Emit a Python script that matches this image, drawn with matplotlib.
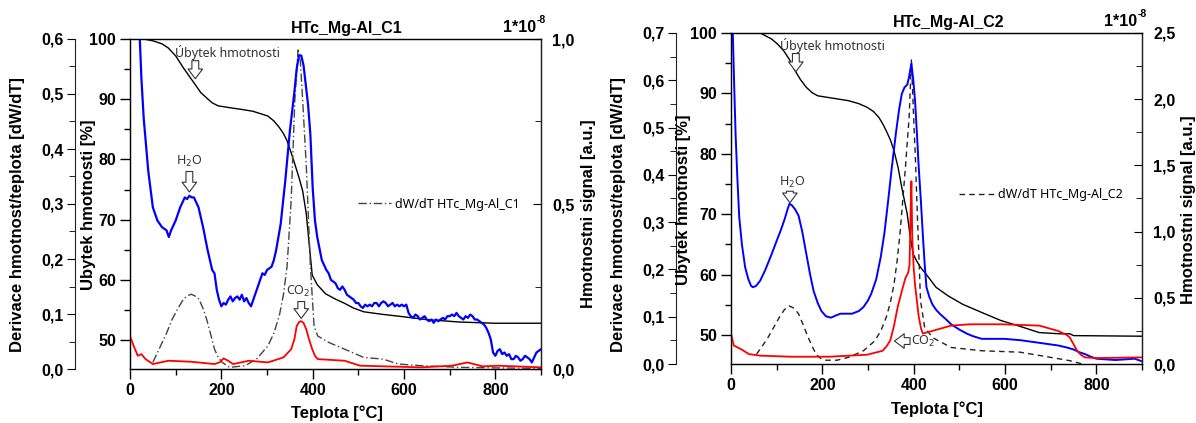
import numpy as np
import matplotlib
matplotlib.use('Agg')
import matplotlib.pyplot as plt
from matplotlib.ticker import FuncFormatter, MultipleLocator

plt.rcParams['font.family'] = ['Liberation Sans', 'DejaVu Sans']

# ---------------- data: HTc_Mg-Al_C1 ----------------
tg1_x = [0, 30, 50, 70, 84, 100, 117, 130, 143, 155, 168, 180, 193, 218, 245, 269, 290, 302, 315,
         327, 336, 344, 352, 361, 370, 378, 386, 393, 399, 410, 428, 450, 470, 490, 512, 550, 596,
         650, 722, 798, 900]
tg1_y = [100, 100, 99.7, 99.2, 98.5, 97.2, 95.2, 93.8, 92.4, 91.1, 90.2, 89.4, 88.9, 88.6, 88.3,
         88.0, 87.5, 87.2, 86.4, 85.3, 84.3, 83.1, 81.3, 79.2, 77.0, 74.8, 71.0, 65.5, 60.8, 59.2,
         57.7, 56.8, 56.1, 55.3, 54.7, 54.3, 53.9, 53.4, 53.0, 52.8, 52.8]

dtg1_x = [50, 67, 80, 92, 105, 117, 126, 134, 142, 151, 160, 168, 177, 185, 194, 202, 218, 252, 277,
          302, 315, 327, 336, 344, 353, 361, 368, 373, 378, 386, 395, 403, 411, 436, 470, 512, 554,
          588, 638, 722, 800, 900]
dtg1_y = [0.012, 0.042, 0.065, 0.09, 0.11, 0.127, 0.133, 0.136, 0.133, 0.127, 0.11, 0.09, 0.062,
          0.036, 0.02, 0.012, 0.003, 0.006, 0.018, 0.042, 0.065, 0.097, 0.135, 0.187, 0.308, 0.49,
          0.58, 0.56, 0.49, 0.37, 0.187, 0.079, 0.06, 0.048, 0.036, 0.021, 0.018, 0.009, 0.006,
          0.003, 0.002, 0.001]

h2o1_x = [20, 25, 30, 40, 50, 60, 70, 80, 85, 90, 100, 110, 120, 125, 130, 135, 140, 150, 160, 170,
          175, 180, 185, 190, 195, 200, 205, 210, 215, 220, 225, 230, 235, 240, 245, 250, 255, 260,
          265, 270, 275, 280, 285, 290, 295, 300, 305, 310, 315, 320, 330, 340, 350, 360, 365, 370,
          375, 380, 390, 395, 400, 405, 410, 420, 430, 435, 440, 445, 450, 455, 460, 465, 470, 475,
          480, 485, 490, 495, 500, 505, 510, 515, 520, 525, 530, 535, 540, 545, 550, 555, 560, 565,
          570, 575, 580, 585, 590, 595, 600, 605, 610, 615, 620, 625, 630, 635, 640, 645, 650, 655,
          660, 665, 670, 675, 680, 685, 690, 695, 700, 705, 710, 715, 720, 725, 730, 735, 740, 745,
          750, 755, 760, 765, 770, 775, 780, 785, 790, 795, 800, 805, 810, 815, 820, 825, 830, 835,
          840, 845, 850, 855, 860, 865, 870, 875, 880, 885, 890, 895, 900]
h2o1_y = [1.05, 0.88, 0.76, 0.60, 0.49, 0.45, 0.43, 0.42, 0.40, 0.42, 0.45, 0.49, 0.52, 0.515,
          0.525, 0.52, 0.52, 0.49, 0.43, 0.36, 0.33, 0.30, 0.29, 0.24, 0.21, 0.19, 0.20, 0.195,
          0.21, 0.22, 0.205, 0.215, 0.22, 0.21, 0.225, 0.205, 0.215, 0.20, 0.19, 0.21, 0.23, 0.25,
          0.27, 0.29, 0.285, 0.30, 0.305, 0.31, 0.33, 0.36, 0.44, 0.57, 0.72, 0.84, 0.91, 0.95,
          0.95, 0.92, 0.80, 0.71, 0.55, 0.45, 0.40, 0.33, 0.30, 0.29, 0.27, 0.265, 0.26, 0.245,
          0.24, 0.25, 0.24, 0.225, 0.22, 0.215, 0.21, 0.20, 0.20, 0.19, 0.185, 0.195, 0.19, 0.195,
          0.19, 0.20, 0.20, 0.19, 0.20, 0.205, 0.20, 0.19, 0.195, 0.20, 0.19, 0.195, 0.19, 0.195,
          0.19, 0.195, 0.17, 0.16, 0.155, 0.165, 0.16, 0.15, 0.155, 0.16, 0.15, 0.145, 0.15, 0.14,
          0.15, 0.145, 0.15, 0.155, 0.15, 0.16, 0.16, 0.165, 0.16, 0.17, 0.16, 0.155, 0.15, 0.16,
          0.155, 0.165, 0.16, 0.15, 0.15, 0.145, 0.14, 0.135, 0.125, 0.11, 0.09, 0.05, 0.04, 0.055,
          0.06, 0.045, 0.05, 0.04, 0.045, 0.03, 0.03, 0.04, 0.035, 0.025, 0.03, 0.04, 0.035, 0.03,
          0.02, 0.035, 0.05, 0.055, 0.06]

co21_x = [0, 8, 17, 25, 34, 50, 84, 134, 185, 196, 205, 215, 226, 260, 302, 336, 353, 360, 365, 370,
          374, 380, 386, 392, 399, 405, 411, 470, 504, 638, 705, 739, 772, 806, 900]
co21_y = [0.10, 0.07, 0.04, 0.045, 0.03, 0.015, 0.025, 0.022, 0.015, 0.02, 0.032, 0.025, 0.015,
          0.025, 0.02, 0.035, 0.06, 0.09, 0.13, 0.142, 0.145, 0.14, 0.12, 0.09, 0.06, 0.04, 0.03,
          0.025, 0.01, 0.005, 0.01, 0.02, 0.008, 0.01, 0.005]

# ---------------- data: HTc_Mg-Al_C2 ----------------
tg2_x = [0, 64, 89, 100, 115, 128, 140, 152, 165, 178, 190, 215, 257, 280, 298, 312, 324, 332, 340,
         349, 357, 366, 374, 380, 386, 392, 399, 407, 415, 430, 449, 475, 507, 550, 591, 630, 675,
         720, 742, 750, 900]
tg2_y = [100, 100, 99, 98.3, 97.1, 95.6, 93.8, 92.3, 91, 90.1, 89.6, 89.3, 88.8, 88.3, 87.7, 87,
         86, 85, 83.8, 82.3, 80.5, 77.7, 74.4, 72.2, 70, 66.5, 63.4, 62.2, 61.2, 59.8, 57.9, 56.5,
         55.1, 53.7, 52.4, 51.5, 50.4, 50.2, 50.2, 49.9, 49.8]

dtg2_x = [56, 70, 81, 95, 106, 117, 127, 138, 148, 158, 169, 178, 186, 196, 206, 232, 257, 290, 315,
          328, 340, 349, 357, 364, 370, 376, 382, 386, 390, 395, 400, 404, 407, 411, 415, 424, 441,
          482, 549, 633, 700, 742, 770]
dtg2_y = [0.021, 0.04, 0.056, 0.08, 0.099, 0.115, 0.123, 0.118, 0.106, 0.083, 0.056, 0.037, 0.021,
          0.012, 0.008, 0.008, 0.014, 0.028, 0.049, 0.07, 0.099, 0.13, 0.169, 0.22, 0.275, 0.345,
          0.416, 0.47, 0.52, 0.643, 0.52, 0.43, 0.345, 0.24, 0.134, 0.078, 0.056, 0.035, 0.028,
          0.025, 0.014, 0.007, 0.0]

h2o2_x = [2, 4, 7, 10, 14, 18, 24, 31, 38, 44, 48, 55, 64, 75, 89, 100, 110, 118, 124, 128, 133,
          140, 148, 156, 165, 173, 181, 190, 198, 208, 219, 232, 240, 265, 280, 290, 300, 307, 318,
          328, 336, 344, 352, 361, 368, 374, 380, 386, 390, 395, 399, 403, 407, 411, 416, 420, 424,
          428, 434, 441, 449, 457, 470, 482, 500, 516, 530, 549, 599, 633, 675, 716, 735, 750, 762,
          775, 788, 800, 842, 884, 900]
h2o2_y = [2.7, 2.49, 2.1, 1.74, 1.4, 1.11, 0.9, 0.73, 0.64, 0.59, 0.58, 0.59, 0.63, 0.71, 0.83,
          0.93, 1.02, 1.1, 1.17, 1.21, 1.2, 1.17, 1.12, 1.0, 0.83, 0.68, 0.55, 0.46, 0.40, 0.36,
          0.35, 0.37, 0.38, 0.38, 0.40, 0.43, 0.48, 0.53, 0.64, 0.81, 0.99, 1.23, 1.48, 1.74, 1.92,
          2.04, 2.09, 2.11, 2.17, 2.27, 2.15, 1.99, 1.75, 1.49, 1.22, 0.98, 0.76, 0.58, 0.51, 0.45,
          0.41, 0.38, 0.34, 0.30, 0.26, 0.23, 0.21, 0.19, 0.19, 0.18, 0.16, 0.14, 0.125, 0.11, 0.09,
          0.075, 0.055, 0.04, 0.03, 0.04, 0.02]

co22_x = [0, 6, 23, 39, 64, 131, 215, 298, 332, 341, 349, 357, 365, 374, 382, 388, 391, 393, 395,
          397, 400, 403, 407, 411, 416, 420, 441, 482, 524, 591, 675, 716, 735, 742, 750, 758, 766,
          775, 800, 900]
co22_y = [0.23, 0.14, 0.11, 0.075, 0.063, 0.055, 0.055, 0.07, 0.10, 0.135, 0.18, 0.29, 0.43, 0.55,
          0.65, 0.69, 0.75, 1.1, 1.38, 0.95, 0.73, 0.60, 0.48, 0.36, 0.27, 0.23, 0.25, 0.29, 0.30,
          0.30, 0.29, 0.25, 0.22, 0.20, 0.15, 0.10, 0.07, 0.05, 0.045, 0.05]

W, H = 1196, 423
fig = plt.figure(figsize=(W / 100, H / 100), dpi=100)

comma = FuncFormatter(lambda v, p: ('%.1f' % v).replace('.', ','))


def panel(l, t, r, b, dmax, smax, smajor):
    ax = fig.add_axes([l / W, 1 - b / H, (r - l) / W, (b - t) / H])
    ax.set_xlim(0, 900)
    ax.set_ylim(45.2, 100)
    ax.xaxis.set_major_locator(MultipleLocator(200))
    ax.xaxis.set_minor_locator(MultipleLocator(100))
    ax.yaxis.set_major_locator(MultipleLocator(10))
    ax.yaxis.set_minor_locator(MultipleLocator(5))
    ax.tick_params(which='major', length=7, width=1, pad=3, labelsize=11.5)
    ax.tick_params(which='minor', length=4, width=1)
    ax.tick_params(axis='y', which='both', right=False)
    for s in ax.spines.values():
        s.set_linewidth(1)
        s.set_color('#222')

    axd = ax.twinx()
    axd.set_ylim(0, dmax)
    axd.spines['left'].set_visible(True)
    axd.spines['left'].set_position(('axes', -0.134))
    axd.spines['left'].set_color('#222')
    for k in ('right', 'top', 'bottom'):
        axd.spines[k].set_visible(False)
    axd.yaxis.set_ticks_position('left')
    axd.yaxis.set_major_locator(MultipleLocator(0.1))
    axd.yaxis.set_minor_locator(MultipleLocator(0.05))
    axd.yaxis.set_major_formatter(comma)
    axd.tick_params(which='major', length=6, pad=2, labelsize=11.5)
    axd.tick_params(which='minor', length=4)

    axr = ax.twinx()
    axr.set_ylim(0, smax)
    axr.yaxis.set_major_locator(MultipleLocator(smajor))
    axr.yaxis.set_minor_locator(MultipleLocator(smajor / 2))
    axr.yaxis.set_major_formatter(comma)
    axr.tick_params(which='both', direction='in', pad=8, labelsize=11.5)
    axr.tick_params(which='major', length=6)
    axr.tick_params(which='minor', length=4)
    axr.spines['right'].set_color('#222')

    for a in (ax, axd, axr):
        for lab in a.get_xticklabels() + a.get_yticklabels():
            lab.set_fontweight('bold')
    return ax, axd, axr


def hollow_arrow(ax, x0, y0, x1, y1):
    ax.annotate('', xy=(x1, y1), xytext=(x0, y0),
                arrowprops=dict(arrowstyle='simple,head_length=0.5,head_width=0.75,tail_width=0.35',
                                fc='white', ec='#333', lw=0.8, mutation_scale=14,
                                shrinkA=0, shrinkB=0))


note = dict(fontsize=9, color='#333', family=['Noto Sans', 'DejaVu Sans'])
bold = dict(fontweight='bold', color='black')
legend_prop = {'family': ['Noto Sans', 'DejaVu Sans'], 'size': 9}

# ---------- left panel ----------
ax, axd, axr = panel(130, 39, 541, 369, 0.6, 1.0, 0.5)
ax.plot(tg1_x, tg1_y, color='black', lw=1)
axd.plot(dtg1_x, dtg1_y, color='#444', lw=1, ls=(0, (6, 2, 1, 2)),
         label='dW/dT HTc_Mg-Al_C1')
axr.plot(h2o1_x, h2o1_y, color='#0000ff', lw=1.6)
axr.plot(co21_x, co21_y, color='#ff0000', lw=1.3)
axd.legend(loc='center left', bbox_to_anchor=(0.555, 0.5), frameon=False, handlelength=2.6,
           handletextpad=0.35, borderaxespad=0, borderpad=0, prop=legend_prop)
ax.text(214, 97.8, 'Úbytek hmotnosti', ha='center', va='center', **note)
hollow_arrow(ax, 143, 96.4, 143, 93.4)
ax.text(130, 79.6, 'H$_2$O', ha='center', va='center', **note)
hollow_arrow(ax, 130, 78.0, 130, 74.6)
ax.text(368, 58.1, 'CO$_2$', ha='center', va='center', **note)
hollow_arrow(ax, 375, 56.4, 375, 53.6)

fig.text(347 / W, 1 - 28 / H, 'HTc_Mg-Al_C1', ha='center', va='center', fontsize=11.5, **bold)
fig.text(503 / W, 1 - 28 / H, '1*10', ha='left', va='center', fontsize=11.5, **bold)
fig.text(537 / W, 1 - 20 / H, '-8', ha='left', va='center', fontsize=7.5, **bold)
fig.text(18 / W, 1 - 215 / H, 'Derivace hmotnost/teplota [dW/dT]', rotation=90, ha='center',
         va='center', fontsize=12, **bold)
fig.text(88 / W, 1 - 205 / H, 'Ubytek hmotnosti [%]', rotation=90, ha='center', va='center',
         fontsize=12, **bold)
fig.text(588 / W, 1 - 214 / H, 'Hmotnostni signal [a.u.]', rotation=90, ha='center', va='center',
         fontsize=12, **bold)
fig.text(337 / W, 1 - 413 / H, 'Teplota [°C]', ha='center', va='center', fontsize=12, **bold)

# ---------- right panel ----------
ax, axd, axr = panel(731, 33, 1142, 364, 0.7, 2.5, 0.5)
ax.plot(tg2_x, tg2_y, color='black', lw=1)
axd.plot(dtg2_x, dtg2_y, color='#222', lw=1, ls=(0, (4, 3)), label='dW/dT HTc_Mg-Al_C2')
axr.plot(h2o2_x, h2o2_y, color='#0000ff', lw=1.4)
axr.plot(co22_x, co22_y, color='#ff0000', lw=1.3)
axd.legend(loc='center left', bbox_to_anchor=(0.555, 0.512), frameon=False, handlelength=2.8,
           handletextpad=0.35, borderaxespad=0, borderpad=0, prop=legend_prop)
ax.text(222, 98.0, 'Úbytek hmotnosti', ha='center', va='center', **note)
hollow_arrow(ax, 142, 96.6, 142, 93.6)
ax.text(135, 75.3, 'H$_2$O', ha='center', va='center', **note)
hollow_arrow(ax, 129, 73.8, 129, 71.9)
hollow_arrow(ax, 392, 49.0, 358, 49.0)
ax.text(395, 48.9, 'CO$_2$', ha='left', va='center', **note)

fig.text(949 / W, 1 - 22 / H, 'HTc_Mg-Al_C2', ha='center', va='center', fontsize=11.5, **bold)
fig.text(1104 / W, 1 - 22 / H, '1*10', ha='left', va='center', fontsize=11.5, **bold)
fig.text(1138 / W, 1 - 14 / H, '-8', ha='left', va='center', fontsize=7.5, **bold)
fig.text(619 / W, 1 - 215 / H, 'Derivace hmotnost/teplota [dW/dT]', rotation=90, ha='center',
         va='center', fontsize=12, **bold)
fig.text(684 / W, 1 - 200 / H, 'Ubytek hmotnosti [%]', rotation=90, ha='center', va='center',
         fontsize=12, **bold)
fig.text(1188 / W, 1 - 210 / H, 'Hmotnostni signal [a.u.]', rotation=90, ha='center', va='center',
         fontsize=12, **bold)
fig.text(937 / W, 1 - 409 / H, 'Teplota [°C]', ha='center', va='center', fontsize=12, **bold)

plt.savefig('out.png', dpi=100)
